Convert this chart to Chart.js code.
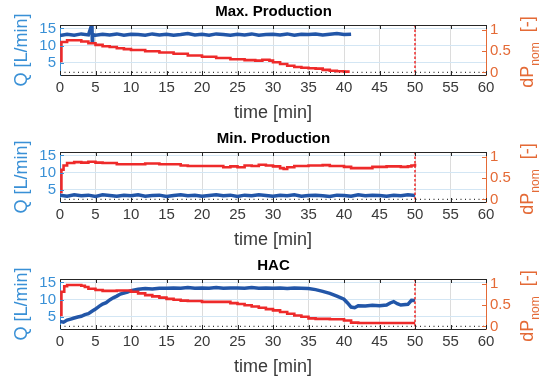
<!DOCTYPE html>
<html>
<head>
<meta charset="utf-8">
<script src="https://cdn.jsdelivr.net/npm/chart.js@4.4.0/dist/chart.umd.min.js"></script>
<style>
html,body{margin:0;padding:0;background:#fff;overflow:hidden;}
.panel{position:absolute;left:0;width:547px;height:127px;}
</style>
</head>
<body>
<div class="panel" style="top:0"><canvas id="maxChart"></canvas></div>
<div class="panel" style="top:127px"><canvas id="minChart"></canvas></div>
<div class="panel" style="top:254px"><canvas id="hacChart"></canvas></div>
<script>
/* ==========================================
   DATA
========================================== */

const timeTicks = [0,5,10,15,20,25,30,35,40,45,50,55,60];
const qTicks = [5,10,15];
const dpTicks = [0,0.5,1];
const stopTime = 50;
const refLevel = 0;

// Max. Production
const maxQTime = [0,1,2,3,4,4.5,4.55,4.6,5,6,7,8,9,10,11,12,13,14,15,16,17,18,19,20,21,22,23,24,25,26,27,28,29,30,31,32,33,34,35,36,37,38,39,40,41];
const maxQ = [12.9,13.3,13.0,13.4,13.1,16.2,11.0,13.2,13.0,13.3,13.1,13.4,13.0,13.3,13.2,13.0,13.4,13.1,13.3,13.0,13.2,13.5,13.1,13.3,13.0,13.4,13.2,13.0,13.3,13.1,13.4,13.0,13.2,13.3,13.1,13.4,13.0,13.3,13.2,13.4,13.1,13.3,13.5,13.2,13.3];
const maxDpTime = [0,0.2,1,2,3,4,5,6,7,8,9,10,12,14,16,18,20,22,24,26,27.5,28.5,29.5,30,31,32,33,34,35,36,37,38,39,40,40.8];
const maxDp = [0.27,0.72,0.76,0.76,0.73,0.69,0.65,0.62,0.6,0.57,0.55,0.53,0.5,0.47,0.44,0.4,0.37,0.34,0.31,0.29,0.28,0.3,0.28,0.24,0.2,0.16,0.13,0.11,0.1,0.09,0.06,0.04,0.03,0.02,0.02];

// Min. Production
const minQTime = [0,1,2,3,4,5,6,7,8,9,10,11,12,13,14,15,16,17,18,19,20,21,22,23,24,25,26,27,28,29,30,31,32,33,34,35,36,37,38,39,40,41,42,43,44,45,46,47,48,49,50];
const minQ = [3.4,3.1,3.5,3.2,3.4,3.0,3.5,3.3,3.1,3.4,3.2,3.5,3.1,3.3,3.4,3.0,3.3,3.5,3.2,3.4,3.1,3.3,3.5,3.2,3.4,3.0,3.4,3.2,3.5,3.3,3.1,3.4,3.2,3.5,3.1,3.3,3.4,3.2,3.0,3.4,3.3,3.1,3.5,3.2,3.4,3.3,3.1,3.4,3.2,3.5,3.3];
const minDpTime = [0,0.2,0.5,1,2,3,4,5,6,7,8,10,12,13,14,16,17,18,20,22,23,24,25,26,27,28,29,30,31,31.5,32,33,35,37,38,40,41,42,43,44,46,48,49,49.5,50];
const minDp = [0.18,0.7,0.8,0.86,0.88,0.87,0.89,0.87,0.86,0.86,0.83,0.83,0.85,0.85,0.83,0.83,0.8,0.79,0.79,0.79,0.76,0.78,0.76,0.8,0.79,0.82,0.8,0.78,0.74,0.72,0.76,0.79,0.8,0.81,0.79,0.77,0.74,0.74,0.74,0.77,0.78,0.77,0.78,0.8,0.84];

// HAC
const hacQTime = [0,0.5,1,1.5,2,2.5,3,3.5,4,4.5,5,5.5,6,6.5,7,7.5,8,8.5,9,9.5,10,11,12,13,14,15,16,17,18,19,20,21,22,23,24,25,26,27,28,29,30,31,32,33,34,35,36,37,38,39,40,40.5,41,41.5,42,43,44,45,46,46.5,47,47.5,48,49,49.5,50];
const hacQ = [3.6,3.4,4.0,4.3,4.6,4.9,5.1,5.6,5.9,6.6,7.2,8.0,8.7,9.1,9.9,10.5,11.0,11.6,11.9,12.2,12.6,13.0,13.2,13.1,13.3,13.3,13.4,13.3,13.5,13.3,13.4,13.3,13.5,13.3,13.4,13.4,13.3,13.5,13.3,13.4,13.3,13.4,13.2,13.4,13.3,13.2,12.9,12.4,11.8,11.0,10.1,9.0,7.8,7.6,8.2,8.1,8.3,8.2,8.4,9.0,9.4,8.8,8.4,8.6,9.8,9.7];
const hacDpTime = [0,0.2,0.6,1,2,3,3.5,4,5,6,7,8,9,10,11,12,13,14,15,16,17,18,20,22,24,25,26,27,28,29,30,31,32,33,34,35,36,38,40,41,42,45,48,50];
const hacDp = [0.27,0.82,0.95,0.98,0.98,0.96,0.93,0.89,0.86,0.84,0.84,0.85,0.85,0.82,0.78,0.74,0.71,0.68,0.65,0.63,0.61,0.6,0.58,0.58,0.55,0.53,0.5,0.47,0.44,0.41,0.38,0.34,0.3,0.26,0.23,0.19,0.18,0.17,0.14,0.09,0.08,0.08,0.08,0.08];


/* ==========================================
   STYLE
========================================== */

const FONT = '"Liberation Sans", Arial, Helvetica, sans-serif';
const qLine = "#2256a8";
const dpLine = "#ee2a2a";
const qAxis = "#3990d6";
const dpAxis = "#e46a36";
const darkText = "#3a3a3a";

Chart.defaults.font.family = FONT;
Chart.defaults.animation = false;

const pairs = (xs, ys) => xs.map((t, i) => ({x: t, y: ys[i]}));


/* ==========================================
   MATLAB-LIKE AXES DECORATION
========================================== */

const matlabAxes = {
  id: "matlabAxes",
  afterDatasetsDraw(chart) {
    const {ctx, chartArea: a, scales: {x, y, y1}} = chart;
    ctx.save();

    // end of run marker
    const sx = x.getPixelForValue(stopTime);
    ctx.strokeStyle = dpLine;
    ctx.lineWidth = 1.5;
    ctx.setLineDash([2.5, 2]);
    ctx.beginPath();
    ctx.moveTo(sx, a.top);
    ctx.lineTo(sx, a.bottom);
    ctx.stroke();
    ctx.setLineDash([]);

    // top spine + inward x ticks
    ctx.strokeStyle = "#262626";
    ctx.lineWidth = 1;
    ctx.beginPath();
    ctx.moveTo(a.left, a.top + 0.5);
    ctx.lineTo(a.right, a.top + 0.5);
    x.ticks.forEach(t => {
      const px = Math.round(x.getPixelForValue(t.value)) + 0.5;
      ctx.moveTo(px, a.bottom);
      ctx.lineTo(px, a.bottom - 4);
      ctx.moveTo(px, a.top);
      ctx.lineTo(px, a.top + 4);
    });
    ctx.stroke();

    // inward y ticks
    ctx.strokeStyle = qAxis;
    ctx.beginPath();
    y.ticks.forEach(t => {
      const py = Math.round(y.getPixelForValue(t.value)) + 0.5;
      ctx.moveTo(a.left, py);
      ctx.lineTo(a.left + 4, py);
    });
    ctx.stroke();

    ctx.strokeStyle = dpAxis;
    ctx.beginPath();
    y1.ticks.forEach(t => {
      const py = Math.round(y1.getPixelForValue(t.value)) + 0.5;
      ctx.moveTo(a.right, py);
      ctx.lineTo(a.right - 4, py);
    });
    ctx.stroke();
    ctx.restore();
  },
  afterDraw(chart) {
    // right axis title with subscript: dP_nom [-]
    const {ctx, chartArea: a} = chart;
    const big = "18px " + FONT;
    const small = "12px " + FONT;
    ctx.save();
    ctx.translate(528, (a.top + a.bottom) / 2 + 2);
    ctx.rotate(-Math.PI / 2);
    ctx.fillStyle = dpAxis;
    ctx.textBaseline = "middle";
    ctx.font = big;
    const w1 = ctx.measureText("dP").width;
    const w3 = ctx.measureText("  [-]").width;
    ctx.font = small;
    const w2 = ctx.measureText("nom").width;
    const sx = -(w1 + w2 + w3) / 2;
    ctx.font = big;
    ctx.fillText("dP", sx, 0);
    ctx.font = small;
    ctx.fillText("nom", sx + w1, 8);
    ctx.font = big;
    ctx.fillText("  [-]", sx + w1 + w2, 0);
    ctx.restore();
  }
};


/* ==========================================
   CHART BUILDER
========================================== */

function buildChart(id, title, qTime, qVals, dpTime, dpVals) {

  return new Chart(document.getElementById(id), {
    type: "line",
    data: {
      datasets: [
        {
          label: "dP",
          data: pairs(dpTime, dpVals),
          yAxisID: "y1",
          borderColor: dpLine,
          borderWidth: 2.6,
          stepped: true,
          pointRadius: 0,
          order: 1
        },
        {
          label: "Q",
          data: pairs(qTime, qVals),
          yAxisID: "y",
          borderColor: qLine,
          borderWidth: 3.5,
          pointRadius: 0,
          order: 2
        },
        {
          label: "ref",
          data: pairs([timeTicks[0], timeTicks[timeTicks.length - 1]], [refLevel, refLevel]),
          yAxisID: "y1",
          borderColor: "#333333",
          borderWidth: 1.2,
          borderDash: [1, 3.5],
          pointRadius: 0,
          order: 3
        }
      ]
    },
    options: {
      responsive: true,
      maintainAspectRatio: false,
      layout: {padding: 0},
      plugins: {
        legend: {display: false},
        tooltip: {enabled: false},
        title: {
          display: true,
          text: title,
          color: "#000",
          font: {size: 15, weight: "bold"},
          padding: {top: 3, bottom: 4}
        }
      },
      scales: {
        x: {
          type: "linear",
          min: 0,
          max: 60,
          afterBuildTicks: s => { s.ticks = timeTicks.map(v => ({value: v})); },
          afterFit: s => { s.height = 52; },
          grid: {color: "#dcdcdc", drawTicks: false},
          border: {color: "#262626"},
          ticks: {color: darkText, font: {size: 15}, padding: 4, maxRotation: 0, autoSkip: false, callback: v => String(v)},
          title: {display: true, text: "time [min]", color: darkText, font: {size: 18}, padding: {top: 0, bottom: 3}}
        },
        y: {
          position: "left",
          min: 1.4,
          max: 16,
          afterBuildTicks: s => { s.ticks = qTicks.map(v => ({value: v})); },
          afterFit: s => { s.width = 60; },
          grid: {color: "#d3e6f4", drawTicks: false},
          border: {color: qAxis},
          ticks: {color: qAxis, font: {size: 15}, padding: 4, callback: v => String(v)},
          title: {display: true, text: "Q [L/min]", color: qAxis, font: {size: 18}, padding: {top: 11, bottom: 0}}
        },
        y1: {
          position: "right",
          min: -0.06,
          max: 1.12,
          afterBuildTicks: s => { s.ticks = dpTicks.map(v => ({value: v})); },
          afterFit: s => { s.width = 61; },
          grid: {display: false, drawTicks: false},
          border: {color: dpAxis},
          ticks: {color: dpAxis, font: {size: 15}, padding: 4, callback: v => String(v)}
        }
      }
    },
    plugins: [matlabAxes]
  });

}

buildChart("maxChart", "Max. Production", maxQTime, maxQ, maxDpTime, maxDp);
buildChart("minChart", "Min. Production", minQTime, minQ, minDpTime, minDp);
buildChart("hacChart", "HAC", hacQTime, hacQ, hacDpTime, hacDp);
</script>
</body>
</html>
